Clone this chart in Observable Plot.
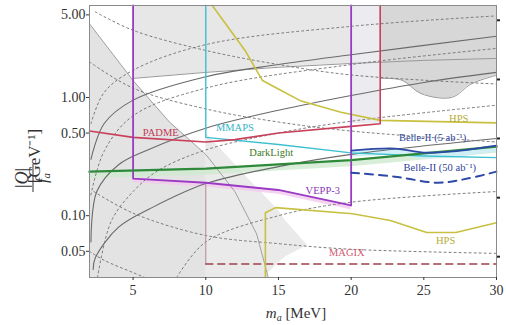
<!DOCTYPE html>
<html><head><meta charset="utf-8">
<script src="https://cdn.jsdelivr.net/npm/d3@7"></script>
<script src="https://cdn.jsdelivr.net/npm/@observablehq/plot@0.6"></script>
<style>body{margin:0;background:#fff;}</style>
</head><body><div id="chart"></div>
<script>
// ---- axis ticks ----
const xTicks = [5, 10, 15, 20, 25, 30];
const yTicks = [0.05, 0.1, 0.5, 1, 5];
const yTickLabels = ["0.05", "0.10", "0.50", "1.00", "5.00"];
const rightTicks = [4.5, 1.42, 0.45, 0.142, 0.045];

// ---- experiments [m (MeV), |Q|/f (GeV^-1)] ----
const padme = [[2,0.52],[5,0.46],[10,0.42],[12,0.44],[15,0.5],[20,0.57],[22,0.6],[22,6]];
const mmaps = [[10,6],[10,0.46],[15,0.40],[20,0.34],[25,0.32],[30,0.31]];
const vepp3 = [[5,6],[5,0.206],[10,0.19],[15,0.165],[20,0.122],[20,6]];
const darkLight = [[2,0.236],[10,0.25],[20,0.295],[30,0.384]];
const belle5 = [[20,0.355],[23,0.37],[25,0.342],[27,0.35],[30,0.392]];
const belle50 = [[20,0.231],[23,0.214],[26,0.19],[28,0.206],[30,0.236]];
const hpsUpper = [[10.45,6],[12.7,2.5],[13.9,1.39],[15.15,1.15],[16.5,0.94],[19.3,0.75],[22,0.64],[30,0.61]];
const hpsLower = [[14.1,0.03],[14.1,0.106],[14.8,0.117],[20.1,0.104],[22.7,0.091],[25.2,0.072],[27.2,0.072],[30,0.087]];
const magix = [[10,0.039],[30,0.039]];
const magixEdge = [[10,0.039],[10,0.19]];

// ---- excluded (gray) regions ----
const topRegion = [[5,1.45],[10,1.63],[15,1.8],[20,1.94],[25,2.06],[30,2.14]];
const bumpRegion = [[22,1.45],[23.5,1.4],[24.8,1.08],[26.9,1.0],[28.3,1.31],[30,1.54]];
const stripRegion = [[20,0.6],[22,0.6]];
const leftRegion = [[2,4.2],[5,1.39],[7.5,0.62],[10,0.33],[12,0.16],[13.5,0.07],[14.3,0.03]];
const tipRegion = [[10,0.03,0.5],[13,0.03,0.2],[14,0.03,0.15],[15,0.04,0.11],[15.5,0.045,0.09],[17,0.056,0.056]];

// ---- gray contour curves ----
const solidCurves = [
  [[2.1,0.06],[2.5,0.16],[4,0.27],[6,0.36],[10,0.55],[15,0.78],[20,1.04],[25,1.34],[30,1.63]],
  [[2.1,0.3],[3,0.6],[5,0.95],[10,1.5],[15,1.9],[20,2.3],[30,3.3]],
  [[2.25,0.035],[2.4,0.044],[4,0.08],[6.3,0.117],[10,0.187],[15,0.26],[20,0.33],[30,0.45]]
];
const dottedCurves = [
  [[2.55,0.03],[3.5,0.09],[5,0.16],[6.7,0.24],[10,0.36],[15,0.5],[20,0.63],[30,0.86]],
  [[2.1,0.15],[3,0.35],[5,0.7],[10,1.2],[20,1.9],[30,2.6]],
  [[2.1,0.6],[3,1.1],[5,1.7],[10,2.8],[20,4.0],[30,4.9]],
  [[8,0.03],[10,0.06],[15,0.1],[20,0.13],[30,0.16]],
  [[2.4,5.3],[5,3.7],[10,2.5],[15,1.9],[20,1.55],[30,1.3]],
  [[2,2.0],[5,1.2],[10,0.8],[15,0.62],[20,0.52],[30,0.42]],
  [[2.3,0.16],[5,0.105],[10,0.068],[15,0.058],[20,0.052],[30,0.048]],
  [[2,0.05],[3,0.042],[5,0.033],[5.8,0.03]]
];

// ---- labels ----
const labelText = ["PADME","MMAPS","DarkLight","VEPP-3","Belle-II (5 ab⁻¹)","Belle-II (50 ab⁻¹)","HPS","HPS","MAGIX"];
const labelM = [6.9, 12.0, 14.5, 18.05, 25.6, 26.1, 27.4, 26.5, 19.7];
const labelV = [0.50, 0.56, 0.342, 0.163, 0.455, 0.255, 0.664, 0.061, 0.0487];
const labelColor = ["#c23a55","#35b4c8","#3d7a2a","#8a35b5","#2c3f99","#2c3f99","#b5ad35","#b5ad35","#cf5a70"];
const labelWeight = ["normal","normal","bold","normal","bold","bold","normal","normal","normal"];

const X = d => d[0], Y = d => d[1];
const labels = labelText.map((t,i)=>({t, m:labelM[i], v:labelV[i], c:labelColor[i], w:labelWeight[i]}));
const yLab = yTicks.map((v,i)=>({v, t:yTickLabels[i]}));

const chart = Plot.plot({
  width: 506, height: 325,
  marginLeft: 89, marginRight: 10, marginTop: 5, marginBottom: 48,
  x: {domain: [2, 30], label: null},
  y: {type: "log", domain: [0.03, 6], label: null},
  style: {fontFamily: "Liberation Serif", fontSize: "14px", color: "#333", background: "#fff"},
  marks: [
    // regions
    Plot.areaY(leftRegion, {x: X, y1: d => 0.03, y2: Y, fill: "#e3e3e3"}),
    Plot.areaY(tipRegion, {x: d => d[0], y1: d => d[1], y2: d => d[2], fill: "#eaeaea"}),
    Plot.areaY(topRegion, {x: X, y1: Y, y2: d => 6, fill: "#e7e7e7"}),
    Plot.areaY(stripRegion, {x: X, y1: Y, y2: d => 6, fill: "#ebebf0"}),
    Plot.areaY(bumpRegion, {x: X, y1: Y, y2: d => 6, fill: "#d7d7d7", curve: "catmull-rom"}),
    Plot.areaY(darkLight, {x: X, y1: d => d[1]*0.88, y2: Y, fill: "#cfeacf", fillOpacity: 0.8}),
    Plot.areaY(belle5, {x: X, y1: d => d[1]*0.88, y2: Y, fill: "#cdeef6", fillOpacity: 0.9}),
    Plot.areaY(vepp3.slice(1,5), {x: X, y1: d => d[1]*0.92, y2: Y, fill: "#f2c8ee", fillOpacity: 0.8}),
    // gray curves
    Plot.line(leftRegion, {x: X, y: Y, stroke: "#a0a0a0", strokeWidth: 1}),
    Plot.line(topRegion, {x: X, y: Y, stroke: "#9a9a9a", strokeWidth: 1}),
    Plot.line(bumpRegion, {x: X, y: Y, stroke: "#999", strokeWidth: 1, curve: "catmull-rom"}),
    ...solidCurves.map(c => Plot.line(c, {x: X, y: Y, stroke: "#6a6a6a", strokeWidth: 1.1, curve: "catmull-rom"})),
    ...dottedCurves.map(c => Plot.line(c, {x: X, y: Y, stroke: "#777", strokeWidth: 1, strokeDasharray: "2,3", curve: "catmull-rom"})),
    // experiments
    Plot.line(magixEdge, {x: X, y: Y, stroke: "#b08898", strokeWidth: 1}),
    Plot.line(magix, {x: X, y: Y, stroke: "#a04050", strokeWidth: 1.6, strokeDasharray: "7,5"}),
    Plot.line(hpsUpper, {x: X, y: Y, stroke: "#c8c040", strokeWidth: 1.6}),
    Plot.line(hpsLower, {x: X, y: Y, stroke: "#c8c040", strokeWidth: 1.6}),
    Plot.line(mmaps, {x: X, y: Y, stroke: "#3cc0d0", strokeWidth: 1.4}),
    Plot.line(padme, {x: X, y: Y, stroke: "#c8405a", strokeWidth: 1.6}),
    Plot.line(vepp3, {x: X, y: Y, stroke: "#9a3bc4", strokeWidth: 1.8}),
    Plot.line(darkLight, {x: X, y: Y, stroke: "#2e8a3a", strokeWidth: 2.4}),
    Plot.line(belle5, {x: X, y: Y, stroke: "#2d49a8", strokeWidth: 1.8, curve: "catmull-rom"}),
    Plot.line(belle50, {x: X, y: Y, stroke: "#2d49a8", strokeWidth: 2, strokeDasharray: "8,6", curve: "catmull-rom"}),
    // labels
    Plot.text(labels, {x: "m", y: "v", text: "t", fill: "c", fontWeight: "w", fontSize: 10.5, fontFamily: "Liberation Serif"}),
    // axes
    Plot.frame({stroke: "#8a8a8a"}),
    Plot.axisX({ticks: xTicks, tickSize: 3, tickPadding: 5, label: null, fontSize: 14}),
    Plot.axisY({ticks: yTicks, tickFormat: () => "", tickSize: 3, label: null}),
    Plot.text(yLab, {x: d => 2, y: "v", text: "t", textAnchor: "end", dx: -4, fontSize: 14, fill: "#333", fontFamily: "Liberation Serif"}),
    Plot.axisY({anchor: "right", ticks: rightTicks, tickFormat: () => "", tickSize: 3, label: null, stroke: "#222", strokeWidth: 2})
  ]
});
document.getElementById("chart").append(chart);

// axis titles
const svg = d3.select(chart);
const xl = svg.append("text").attr("x", 296).attr("y", 318).attr("text-anchor", "middle")
  .attr("font-family", "Liberation Serif").attr("font-size", 15).attr("fill", "#333");
xl.append("tspan").attr("font-style", "italic").text("m");
xl.append("tspan").attr("font-style", "italic").attr("font-size", 10).attr("dy", 3).text("a");
xl.append("tspan").attr("dy", -3).text(" [MeV]");

const g = svg.append("g").attr("transform", "translate(33,150) rotate(-90)")
  .attr("font-family", "Liberation Serif").attr("fill", "#333");
g.append("text").attr("x", -28).attr("y", -5).attr("text-anchor", "middle").attr("font-size", 18)
  .html('|<tspan font-style="italic">Q</tspan>|');
g.append("line").attr("x1", -42).attr("x2", -14).attr("y1", 0).attr("y2", 0).attr("stroke", "#333").attr("stroke-width", 1);
g.append("text").attr("x", -28).attr("y", 14).attr("text-anchor", "middle").attr("font-size", 17)
  .html('<tspan font-style="italic">f</tspan><tspan font-style="italic" font-size="11" dy="3">a</tspan>');
g.append("text").attr("x", -6).attr("y", 7).attr("font-size", 17).text("[GeV⁻¹]");
</script></body></html>
